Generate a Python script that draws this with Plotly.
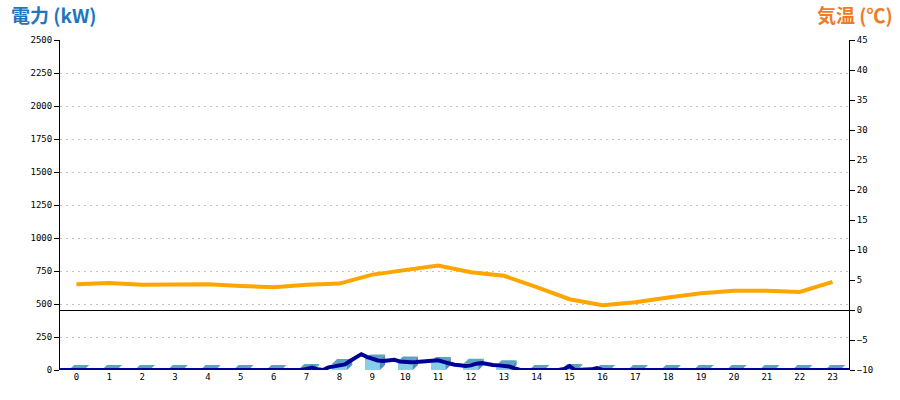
import plotly.graph_objects as go

# ---- data ----
hours = list(range(24))
hour_labels = [str(h) for h in hours]

# hourly energy bars (kW)
bar_kw = [0, 0, 0, 0, 0, 0, 0, 8, 45, 80, 65, 60, 48, 35, 0, 8, 0, 0, 0, 0, 0, 0, 0, 0]

# hourly temperature (deg C)
temp_c = [4.3, 4.5, 4.2, 4.2, 4.3, 4.0, 3.8, 4.2, 4.4, 5.9, 6.7, 7.4,
          6.3, 5.7, 3.8, 1.8, 0.8, 1.3, 2.1, 2.8, 3.2, 3.2, 3.0, 4.7]

# 10-minute power samples from 0:00 to 24:00 (kW)
power_step_min = 10
power_kw = [
    0, 0, 0, 0, 0, 0,   # 0h
    0, 0, 0, 0, 0, 0,   # 1h
    0, 0, 0, 0, 0, 0,   # 2h
    0, 0, 0, 0, 0, 0,   # 3h
    0, 0, 0, 0, 0, 0,   # 4h
    0, 0, 0, 0, 0, 0,   # 5h
    0, 0, 0, 0, 0, 0,   # 6h
    0, 0, 0, 8, 18, 5,  # 7h
    0, 20, 28, 32, 42, 70,   # 8h
    95, 120, 100, 85, 72, 68,  # 9h
    72, 78, 65, 58, 58, 60,  # 10h
    62, 66, 70, 74, 62, 48,  # 11h
    40, 36, 30, 35, 48, 52,  # 12h
    42, 38, 35, 33, 26, 12,  # 13h
    0, 0, 0, 0, 0, 0,   # 14h
    0, 0, 8, 30, 0, 0,  # 15h
    0, 5, 15, 0, 0, 0,  # 16h
    0, 0, 0, 0, 0, 0,   # 17h
    0, 0, 0, 0, 0, 0,   # 18h
    0, 0, 0, 0, 0, 0,   # 19h
    0, 0, 0, 0, 0, 0,   # 20h
    0, 0, 0, 0, 0, 0,   # 21h
    0, 0, 0, 0, 0, 0,   # 22h
    0, 0, 0, 0, 0, 0,   # 23h
    0,                  # 24:00
]

# ---- style ----
BAR_W = 0.46
DEPTH_X = 0.16     # category units
DEPTH_Y = 38       # kW units
FRONT = '#87CEEB'
TOP = '#5FA2BF'
SIDE = '#4F93B3'
TICKFONT = dict(family='DejaVu Sans Mono', size=9, color='black')

fig = go.Figure()

fig.add_trace(go.Bar(x=hours, y=bar_kw, width=BAR_W, marker=dict(color=FRONT, line=dict(width=0)),
                     hoverinfo='skip', showlegend=False))

side_x, side_y, top_x, top_y = [], [], [], []
for h, v in zip(hours, bar_kw):
    r = h + BAR_W / 2
    l = h - BAR_W / 2
    side_x += [r, r + DEPTH_X, r + DEPTH_X, r, r, None]
    side_y += [0, DEPTH_Y, v + DEPTH_Y, v, 0, None]
    top_x += [l, r, r + DEPTH_X, l + DEPTH_X, l, None]
    top_y += [v, v, v + DEPTH_Y, v + DEPTH_Y, v, None]

fig.add_trace(go.Scatter(x=side_x, y=side_y, mode='lines', fill='toself', fillcolor=SIDE,
                         line=dict(width=0, color=SIDE), hoverinfo='skip', showlegend=False))
fig.add_trace(go.Scatter(x=top_x, y=top_y, mode='lines', fill='toself', fillcolor=TOP,
                         line=dict(width=0, color=TOP), hoverinfo='skip', showlegend=False))

power_x = [i * power_step_min / 60 - 0.5 for i in range(len(power_kw))]
fig.add_trace(go.Scatter(x=power_x, y=power_kw, mode='lines',
                         line=dict(color='#000099', width=4), hoverinfo='skip', showlegend=False))

fig.add_trace(go.Scatter(x=hours, y=temp_c, mode='lines', yaxis='y2',
                         line=dict(color='#FFA500', width=4), hoverinfo='skip', showlegend=False))

fig.update_layout(
    width=900, height=400,
    margin=dict(l=60, r=51, t=40, b=30),
    paper_bgcolor='white', plot_bgcolor='white',
    bargap=0,
    hovermode=False,
    xaxis=dict(range=[-0.5, 23.5], tickvals=hours, ticktext=hour_labels, showgrid=False,
               zeroline=False, showline=False, ticks='', tickfont=TICKFONT, fixedrange=True),
    yaxis=dict(range=[0, 2500], dtick=250, tick0=0, showline=True, linecolor='black', linewidth=1,
               ticks='outside', ticklen=5, tickcolor='black', showgrid=True, gridcolor='#c4c4c4',
               griddash='2px,4px', gridwidth=1, zeroline=False, tickfont=TICKFONT, fixedrange=True),
    yaxis2=dict(range=[-10, 45], dtick=5, tick0=0, overlaying='y', side='right', showline=True,
                linecolor='black', linewidth=1, ticks='outside', ticklen=5, tickcolor='black',
                showgrid=False, zeroline=True, zerolinecolor='black', zerolinewidth=1,
                tickfont=TICKFONT, fixedrange=True),
    annotations=[
        dict(text='<b>電力 (kW)</b>', xref='paper', yref='paper', x=-0.065, y=1.125,
             xanchor='left', yanchor='top', showarrow=False,
             font=dict(family='Noto Sans CJK JP', size=19, color='#1E76BE')),
        dict(text='<b>気温 (℃)</b>', xref='paper', yref='paper', x=1.058, y=1.125,
             xanchor='right', yanchor='top', showarrow=False,
             font=dict(family='Noto Sans CJK JP', size=19, color='#EE7B26')),
    ],
)

fig.write_html('out.html', config={'displayModeBar': False},
               post_script="document.body.style.margin='0';document.body.style.overflow='hidden';")
